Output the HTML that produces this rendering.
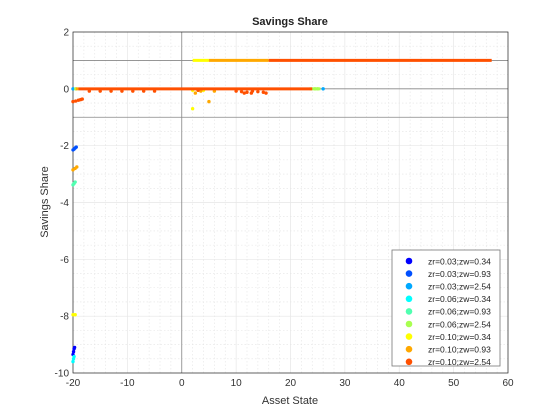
<!DOCTYPE html>
<html><head><meta charset="utf-8"><style>
body{margin:0;background:#fff;}
svg{display:block;font-family:"Liberation Sans",Arial,sans-serif;}
</style></head><body>
<svg id="chart" width="560" height="420">
<rect width="560" height="420" fill="#ffffff"/>
<g id="grid"></g><g id="axes"></g><g id="marks"></g><g id="legend"></g>
<text x="290" y="25" text-anchor="middle" font-size="11" font-weight="bold" fill="#222">Savings Share</text>
<text x="290" y="404" text-anchor="middle" font-size="11" fill="#333">Asset State</text>
<text x="48" y="202" text-anchor="middle" font-size="11" fill="#333" transform="rotate(-90 48 202)">Savings Share</text>
</svg>
<script>
const xTicks=[-20,-10,0,10,20,30,40,50,60];
const yTicks=[2,0,-2,-4,-6,-8,-10];
const seriesNames=["zr=0.03;zw=0.34","zr=0.03;zw=0.93","zr=0.03;zw=2.54","zr=0.06;zw=0.34","zr=0.06;zw=0.93","zr=0.06;zw=2.54","zr=0.10;zw=0.34","zr=0.10;zw=0.93","zr=0.10;zw=2.54"];
const seriesColors=["#0000ff","#0050ff","#00a8ff","#00ffff","#50ffb0","#a8ff50","#ffff00","#ffa800","#ff5000"];
// points per series [x,y]
const seriesPoints=[
[[-20,-9.35],[-19.9,-9.25],[-19.8,-9.15],[-19.7,-9.1]],
[[-20,-2.15],[-19.8,-2.12],[-19.6,-2.08],[-19.4,-2.05]],
[[-20,0],[26,0]],
[[-20,-9.6],[-19.9,-9.5],[-19.8,-9.42]],
[[-20,-3.38],[-19.8,-3.33],[-19.6,-3.28]],
[[24.5,0],[25,0],[-19.5,0]],
[[-20,-7.95],[-19.6,-7.95],[2,-0.7],[2,-0.05],[3,-0.05],[4,-0.05]],
[[-20,-2.85],[-19.6,-2.8],[-19.3,-2.75],[2.5,-0.15],[5,-0.45],[3.5,-0.08],[6,-0.08]],
[[-20,-0.45],[-19.5,-0.43],[-19,-0.4],[-18.6,-0.38],[-18.3,-0.36],[-17,-0.08],[-15,-0.08],[-13,-0.08],[-11,-0.08],[-9,-0.08],[-7,-0.08],[-5,-0.08],[3,-0.05],[10,-0.08],[11,-0.1],[12,-0.12],[12.8,-0.15],[13,-0.08],[14,-0.1],[15,-0.12],[15.5,-0.15],[11.5,-0.15]]
];
// horizontal dense segments per series [x0,x1,y]
const seriesSegments=[[],[],[],[],[],[[23.5,25.5,0]],[[2,5,1]],[[5,16,1],[-19.5,-19,0]],[[16,57,1],[-19,24,0]]];
const L=73,R=508,T=32,B=373;
const sx=v=>L+(v+20)/80*(R-L);
const sy=v=>T+(2-v)/12*(B-T);
const NS="http://www.w3.org/2000/svg";
function mk(t,a,p){const e=document.createElementNS(NS,t);for(const k in a)e.setAttribute(k,a[k]);p.appendChild(e);return e;}
const grid=document.getElementById('grid'),axes=document.getElementById('axes'),marks=document.getElementById('marks'),leg=document.getElementById('legend');
for(let v=-20;v<=60;v+=2){if(v%10===0)continue;const e=mk('line',{x1:sx(v),x2:sx(v),y1:T,y2:B,stroke:'#e4e4e4','stroke-width':0.6,'stroke-dasharray':'1.5,2'},grid);

}
for(let v=-10;v<=2;v+=0.5){if(Number.isInteger(v/2))continue;const e=mk('line',{x1:L,x2:R,y1:sy(v),y2:sy(v),stroke:'#e4e4e4','stroke-width':0.6,'stroke-dasharray':'1.5,2'},grid);

}
xTicks.forEach(v=>{const e=mk('line',{x1:sx(v),x2:sx(v),y1:T,y2:B,stroke:'#e6e6e6','stroke-width':0.7},grid);


const t=mk('text',{x:sx(v),y:B+13,'text-anchor':'middle','font-size':10,fill:'#333'},axes);t.textContent=v;

});
yTicks.forEach(v=>{const e=mk('line',{x1:L,x2:R,y1:sy(v),y2:sy(v),stroke:'#e6e6e6','stroke-width':0.7},grid);


const t=mk('text',{x:L-4,y:sy(v)+3.5,'text-anchor':'end','font-size':10,fill:'#333'},axes);t.textContent=v;

});
[1,0,-1].forEach(v=>{const e=mk('line',{x1:L,x2:R,y1:sy(v),y2:sy(v),stroke:'#888','stroke-width':0.8},axes);

});
{const e=mk('line',{x1:sx(0),x2:sx(0),y1:T,y2:B,stroke:'#888','stroke-width':0.8},axes);

}
{const e=mk('rect',{x:L,y:T,width:R-L,height:B-T,fill:'none',stroke:'#262626','stroke-width':0.7},axes);

}
seriesPoints.forEach((pts,i)=>{
 seriesSegments[i].forEach(s=>{const e=mk('line',{x1:sx(s[0]),x2:sx(s[1]),y1:sy(s[2]),y2:sy(s[2]),stroke:seriesColors[i],'stroke-width':3},marks);
 
 });
 pts.forEach(p=>{const e=mk('circle',{cx:sx(p[0]),cy:sy(p[1]),r:1.7,fill:seriesColors[i]},marks);
 
 });
});
{const e=mk('rect',{x:392,y:250,width:108,height:116,fill:'#fff',stroke:'#777','stroke-width':0.8},leg);

}
seriesNames.forEach((n,i)=>{const y=261+i*12.6;
 const c=mk('circle',{cx:409,cy:y,r:3.3,fill:seriesColors[i]},leg);
 
 
 const t=mk('text',{x:428,y:y+3.3,'font-size':8.5,fill:'#222'},leg);t.textContent=n;
 
 });
</script>
</body></html>
